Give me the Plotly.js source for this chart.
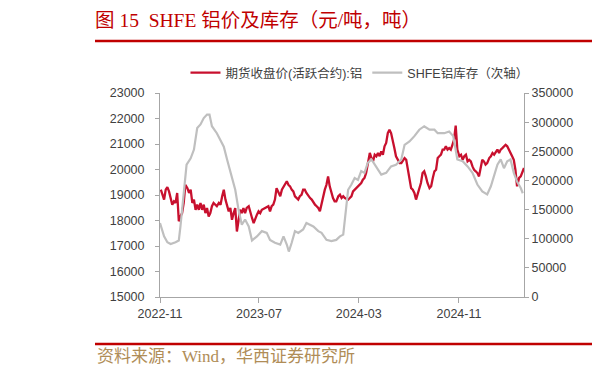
<!DOCTYPE html>
<html>
<head>
<meta charset="utf-8">
<script src="https://cdn.plot.ly/plotly-3.0.1.min.js"></script>
<style>html,body{margin:0;padding:0;background:#fff;}#chart{width:597px;height:375px;}</style>
</head>
<body>
<div id="chart"></div>
<script>
// ---- data ----
const priceName = '期货收盘价(活跃合约):铝';
const stockName = 'SHFE铝库存（次轴）';
const tickVals = ['2022-11-01', '2023-07-01', '2024-03-01', '2024-11-01'];
const tickText = ['2022-11', '2023-07', '2024-03', '2024-11'];

const priceDates = [
'2022-11-03','2022-11-07','2022-11-11','2022-11-15','2022-11-19','2022-11-23','2022-11-27','2022-12-01','2022-12-05','2022-12-09','2022-12-13','2022-12-17','2022-12-21','2022-12-25','2022-12-29',
'2023-01-02','2023-01-07','2023-01-11','2023-01-15','2023-01-19','2023-01-23','2023-01-27','2023-01-31','2023-02-04','2023-02-08','2023-02-12','2023-02-16','2023-02-20','2023-02-24','2023-02-28',
'2023-03-04','2023-03-08','2023-03-12','2023-03-16','2023-03-20','2023-03-25','2023-03-29','2023-04-02','2023-04-06','2023-04-10','2023-04-14','2023-04-18','2023-04-22','2023-04-26','2023-04-30',
'2023-05-04','2023-05-08','2023-05-12','2023-05-16','2023-05-20','2023-05-24','2023-05-28','2023-06-01','2023-06-06','2023-06-10','2023-06-14','2023-06-18','2023-06-22','2023-06-26','2023-06-30',
'2023-07-04','2023-07-08','2023-07-12','2023-07-16','2023-07-20','2023-07-24','2023-07-28','2023-08-01','2023-08-05','2023-08-09','2023-08-13','2023-08-18','2023-08-22','2023-08-26','2023-08-30',
'2023-09-03','2023-09-07','2023-09-11','2023-09-15','2023-09-19','2023-09-23','2023-09-27','2023-10-01','2023-10-05','2023-10-09','2023-10-13','2023-10-17','2023-10-21','2023-10-25','2023-10-30',
'2023-11-03','2023-11-07','2023-11-11','2023-11-15','2023-11-19','2023-11-23','2023-11-27','2023-12-01','2023-12-05','2023-12-09','2023-12-13','2023-12-17','2023-12-21','2023-12-25','2023-12-29',
'2024-01-02','2024-01-06','2024-01-11','2024-01-15','2024-01-19','2024-01-23','2024-01-27','2024-01-31','2024-02-04','2024-02-08','2024-02-12','2024-02-16','2024-02-20','2024-02-24','2024-02-28',
'2024-03-03','2024-03-07','2024-03-11','2024-03-15','2024-03-19','2024-03-23','2024-03-28','2024-04-01','2024-04-05','2024-04-09','2024-04-13','2024-04-17','2024-04-21','2024-04-25','2024-04-29',
'2024-05-03','2024-05-07','2024-05-11','2024-05-15','2024-05-19','2024-05-23','2024-05-27','2024-05-31','2024-06-04','2024-06-09','2024-06-13','2024-06-17','2024-06-21','2024-06-25','2024-06-29',
'2024-07-03','2024-07-07','2024-07-11','2024-07-15','2024-07-19','2024-07-23','2024-07-27','2024-07-31','2024-08-04','2024-08-08','2024-08-12','2024-08-16','2024-08-21','2024-08-25','2024-08-29',
'2024-09-02','2024-09-06','2024-09-10','2024-09-14','2024-09-18','2024-09-22','2024-09-26','2024-09-30','2024-10-04','2024-10-08','2024-10-12','2024-10-16','2024-10-20','2024-10-24','2024-10-28',
'2024-11-02','2024-11-06','2024-11-10','2024-11-14','2024-11-18','2024-11-22','2024-11-26','2024-11-30','2024-12-04','2024-12-08','2024-12-12','2024-12-16','2024-12-20','2024-12-24','2024-12-28',
'2025-01-01','2025-01-05','2025-01-09','2025-01-14','2025-01-18','2025-01-22','2025-01-26','2025-01-30','2025-02-03','2025-02-07','2025-02-11','2025-02-15','2025-02-19','2025-02-23','2025-02-27',
'2025-03-03','2025-03-07','2025-03-11','2025-03-15','2025-03-19','2025-03-23','2025-03-28','2025-04-01','2025-04-05','2025-04-09'
];

const priceValues = [
19210,19010,18820,19210,19310,19140,18820,18620,18750,18690,19080,17970,18160,18290,18690,
19400,19270,19080,19210,18690,18820,18420,18620,18420,18690,18420,18620,18290,18490,18160,
18290,18560,18690,18620,18560,18690,18620,18950,19210,18820,18560,18360,18490,18030,18290,
18490,17570,18030,18420,18290,18490,18290,18490,18560,18290,18100,17900,18100,18230,18360,
18290,18420,18450,18490,18530,18560,18360,18560,18620,18820,19270,19080,18950,
19210,19340,19470,19540,19400,19340,19210,19140,18950,18880,18820,18950,19010,19210,19210,
19080,18950,18880,18820,18690,18620,18560,18490,18360,18690,18950,19210,19400,19730,19340,
19080,18880,18750,18750,18950,19010,18880,18950,18880,18840,18820,18880,18950,19140,19210,
19270,19340,19400,19470,19600,19670,19860,20190,20650,20450,20320,20580,20520,20650,20520,
20710,20580,20910,21040,21430,21560,21430,21170,20840,20520,20380,20250,
20250,20380,20450,20380,19990,19600,19270,19210,19080,18820,19010,19210,19470,19860,19930,
19730,19470,19270,19340,19670,19930,19990,20450,20520,20580,20780,20780,20910,20780,20840,
20780,20970,21170,21720,20780,20520,20580,20380,20520,20580,20320,20380,20320,20120,19990,
19930,19860,19730,20120,20380,20320,20190,20250,20450,20520,20650,20580,20710,20780,20650,
20780,20840,20910,20970,20910,20780,20710,20520,20380,19990,19340,19670,19730,19930,20060
];

const stockDates = [
'2022-11-01','2022-11-11','2022-11-19','2022-11-27','2022-12-09','2022-12-17','2022-12-21','2022-12-29',
'2023-01-05','2023-01-15','2023-01-23','2023-01-31','2023-02-08','2023-02-16','2023-02-24','2023-03-02',
'2023-03-08','2023-03-20','2023-03-29','2023-04-06','2023-04-14','2023-04-26','2023-05-04','2023-05-12',
'2023-05-20','2023-05-28','2023-06-06','2023-06-14','2023-06-26','2023-07-08','2023-07-20','2023-07-28',
'2023-08-09','2023-08-22','2023-08-30','2023-09-07','2023-09-12','2023-09-19','2023-09-27','2023-10-05',
'2023-10-17','2023-10-25','2023-11-03','2023-11-11','2023-11-23','2023-12-01','2023-12-13','2023-12-25',
'2024-01-06','2024-01-15','2024-01-23','2024-01-27','2024-02-04','2024-02-12','2024-02-20','2024-02-28',
'2024-03-07','2024-03-15','2024-03-23','2024-04-01','2024-04-13','2024-04-25','2024-05-07','2024-05-19',
'2024-05-31','2024-06-13','2024-06-21','2024-07-03','2024-07-15','2024-07-27','2024-08-08','2024-08-21',
'2024-09-02','2024-09-10','2024-09-26','2024-10-08','2024-10-18','2024-10-28','2024-11-10','2024-11-22',
'2024-12-04','2024-12-16','2024-12-28','2025-01-09','2025-01-18','2025-01-26','2025-02-03','2025-02-11',
'2025-02-19','2025-02-27','2025-03-07','2025-03-15','2025-03-23','2025-04-01','2025-04-06'
];

const stockValues = [
127000,104000,94000,91000,94000,97000,121000,178000,
227000,238000,253000,290000,296000,307000,313000,313000,
293000,281000,270000,258000,236000,207000,184000,150000,
124000,133000,121000,97000,104000,113000,110000,98000,
93000,90000,104000,90000,78000,93000,113000,110000,
116000,127000,124000,121000,113000,110000,98000,96000,
98000,104000,107000,133000,184000,193000,204000,201000,
216000,213000,230000,236000,224000,210000,213000,224000,
227000,236000,261000,267000,276000,287000,293000,287000,
287000,281000,281000,284000,276000,236000,233000,224000,
213000,193000,181000,176000,190000,207000,227000,236000,
221000,233000,236000,213000,198000,187000,178000
];

const titleText = '图 15  SHFE 铝价及库存（元/吨，吨）';
const sourceText = '资料来源：Wind，华西证券研究所';

// ---- chart ----
const axisColor = '#A6A6A6';
const tickFont = {family: 'Liberation Sans, Arial, sans-serif', size: 12.5, color: '#404040'};

const traces = [
  {x: priceDates, y: priceValues, name: priceName, type: 'scatter', mode: 'lines',
   line: {color: '#C8102E', width: 2.3}, yaxis: 'y'},
  {x: stockDates, y: stockValues, name: stockName, type: 'scatter', mode: 'lines',
   line: {color: '#BFBFBF', width: 2.2}, yaxis: 'y2'}
];

const layout = {
  width: 597, height: 375,
  margin: {l: 160, r: 73, t: 93, b: 78},
  paper_bgcolor: '#ffffff', plot_bgcolor: '#ffffff',
  showlegend: true,
  title: {
    text: titleText, xref: 'container', yref: 'container',
    x: 95/597, xanchor: 'left', y: 1 - 20/375, yanchor: 'middle',
    font: {family: 'Liberation Serif, Noto Sans CJK SC, serif', size: 19.5, color: '#C00000'}
  },
  legend: {
    orientation: 'h', x: 0.07, xanchor: 'left', y: 1.098, yanchor: 'middle',
    font: {family: 'Liberation Sans, Noto Sans CJK SC, sans-serif', size: 12.5, color: '#404040'},
    bgcolor: 'rgba(0,0,0,0)', itemwidth: 30, tracegroupgap: 0
  },
  xaxis: {
    type: 'date', range: ['2022-11-01', '2025-04-09'],
    tickmode: 'array', tickvals: tickVals, ticktext: tickText,
    showgrid: false, zeroline: false, showline: true, linecolor: axisColor, linewidth: 1,
    ticks: 'outside', ticklen: 5, tickcolor: axisColor, tickfont: tickFont
  },
  yaxis: {
    range: [15000, 23000], dtick: 1000, tick0: 15000, tickformat: 'd',
    showgrid: false, zeroline: false, showline: true, linecolor: axisColor, linewidth: 1,
    ticks: 'outside', ticklen: 4, tickcolor: axisColor, tickfont: tickFont,
    ticklabelstandoff: 8
  },
  yaxis2: {
    range: [0, 350000], dtick: 50000, tick0: 0, overlaying: 'y', side: 'right',
    showgrid: false, zeroline: false, showline: true, linecolor: axisColor, linewidth: 1,
    ticks: 'outside', ticklen: 4, tickcolor: axisColor, tickfont: tickFont,
    tickformat: 'd'
  },
  shapes: [
    {type: 'line', xref: 'paper', yref: 'paper', x0: (95-160)/364, x1: (592-160)/364,
     y0: (297-41)/204, y1: (297-41)/204, line: {color: '#C00000', width: 2.5}},
    {type: 'line', xref: 'paper', yref: 'paper', x0: (95-160)/364, x1: (592-160)/364,
     y0: (297-344)/204, y1: (297-344)/204, line: {color: '#C00000', width: 2.5}}
  ],
  annotations: [
    {text: sourceText, xref: 'paper', yref: 'paper', x: (95-160)/364, xanchor: 'left',
     y: (297-356)/204, yanchor: 'middle', showarrow: false,
     font: {family: 'Liberation Serif, Noto Sans CJK SC, serif', size: 17, color: '#B08D57'}}
  ]
};

Plotly.newPlot('chart', traces, layout, {staticPlot: true, displayModeBar: false});
</script>
</body>
</html>
